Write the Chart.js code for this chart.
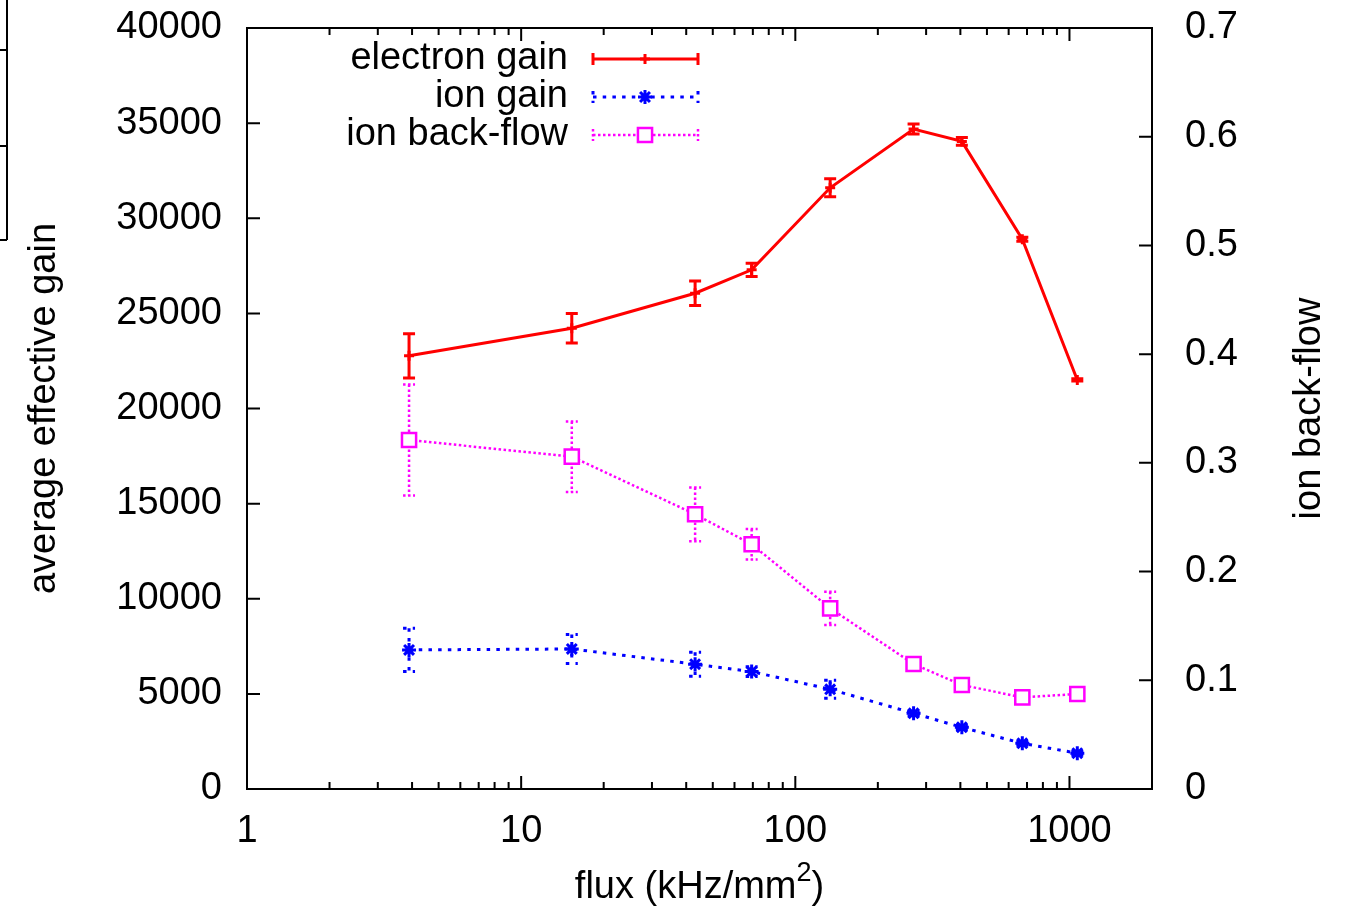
<!DOCTYPE html>
<html>
<head>
<meta charset="utf-8">
<script src="https://cdn.jsdelivr.net/npm/chart.js@4.4.1/dist/chart.umd.min.js"></script>
<style>
  body { margin: 0; background: #fff; }
  #wrap { width: 1353px; height: 910px; }
</style>
</head>
<body>
<div id="wrap"><canvas id="myChart" width="1353" height="910"></canvas></div>
<script>
// flux in kHz/mm2
const flux = [3.9, 15.3, 43.1, 69.3, 134, 270, 405, 673, 1068];

const electronGain = [22770, 24220, 26060, 27290, 31600, 34690, 34040, 28900, 21500];
const electronGainErr = [1165, 775, 640, 350, 470, 260, 200, 105, 60];

const ionGain = [7310, 7360, 6560, 6170, 5240, 3980, 3240, 2400, 1880];
const ionGainErr = [1140, 760, 630, 260, 470, 130, 110, 100, 90];

const backFlow = [0.321, 0.3057, 0.2527, 0.2251, 0.1662, 0.115, 0.0957, 0.0843, 0.0874];
const backFlowErr = [0.051, 0.0324, 0.0247, 0.014, 0.0153, 0.006, 0.0035, 0.0045, 0.0035];

const xTickLabels = [1, 10, 100, 1000];

const FONT = '"Liberation Sans", Arial, Helvetica, sans-serif';
const FSIZE = 38;

function pts(xs, ys) {
    return xs.map((x, i) => ({ x: x, y: ys[i] }));
}

function drawMarker(ctx, style, x, y, r) {
    ctx.beginPath();
    if (style === 'rect') {
        const s = r / Math.SQRT2;
        ctx.fillStyle = '#fff';
        ctx.fillRect(x - s, y - s, 2 * s, 2 * s);
        ctx.rect(x - s, y - s, 2 * s, 2 * s);
    } else if (style === 'star') {
        const d = r * Math.SQRT1_2;
        ctx.moveTo(x - r, y); ctx.lineTo(x + r, y);
        ctx.moveTo(x, y - r); ctx.lineTo(x, y + r);
        ctx.moveTo(x - d, y - d); ctx.lineTo(x + d, y + d);
        ctx.moveTo(x - d, y + d); ctx.lineTo(x + d, y - d);
    } else {
        ctx.moveTo(x - r, y); ctx.lineTo(x + r, y);
        ctx.moveTo(x, y - r); ctx.lineTo(x, y + r);
    }
    ctx.stroke();
}

// vertical error bars with caps, same colour and dash as the series line
const errorBars = {
    id: 'errorBars',
    beforeDatasetsDraw(chart) {
        const ctx = chart.ctx;
        chart.data.datasets.forEach(ds => {
            const xs = chart.scales.x;
            const ys = chart.scales[ds.yAxisID];
            ctx.save();
            ctx.strokeStyle = ds.borderColor;
            ctx.lineWidth = ds.borderWidth;
            ctx.setLineDash(ds.borderDash || []);
            ds.data.forEach((p, j) => {
                const e = ds.errors[j];
                const px = xs.getPixelForValue(p.x);
                const top = ys.getPixelForValue(p.y + e);
                const bot = ys.getPixelForValue(p.y - e);
                ctx.beginPath();
                ctx.moveTo(px, top); ctx.lineTo(px, bot);
                ctx.moveTo(px - 6, top); ctx.lineTo(px + 6, top);
                ctx.moveTo(px - 6, bot); ctx.lineTo(px + 6, bot);
                ctx.stroke();
            });
            ctx.restore();
        });
    }
};

// border, inward ticks, axis titles and the key
const frame = {
    id: 'frame',
    afterDraw(chart) {
        const { ctx, chartArea: a, scales } = chart;
        const { x, y, y2 } = scales;
        ctx.save();
        ctx.strokeStyle = '#000';
        ctx.lineWidth = 2;
        ctx.setLineDash([]);
        ctx.strokeRect(a.left, a.top, a.right - a.left, a.bottom - a.top);

        ctx.beginPath();
        for (let d = 1; d <= 1000; d *= 10) {
            for (let m = 1; m <= 9; m++) {
                const v = d * m;
                if (v >= x.max) break;
                const px = x.getPixelForValue(v);
                const len = m === 1 ? 13 : 7;
                ctx.moveTo(px, a.bottom); ctx.lineTo(px, a.bottom - len);
                ctx.moveTo(px, a.top); ctx.lineTo(px, a.top + len);
            }
        }
        y.ticks.forEach(t => {
            const py = y.getPixelForValue(t.value);
            ctx.moveTo(a.left, py); ctx.lineTo(a.left + 13, py);
        });
        y2.ticks.forEach(t => {
            const py = y2.getPixelForValue(t.value);
            ctx.moveTo(a.right, py); ctx.lineTo(a.right - 13, py);
        });
        // partial frame at the left margin
        ctx.moveTo(7, 0); ctx.lineTo(7, 240);
        ctx.moveTo(0, 50); ctx.lineTo(7, 50);
        ctx.moveTo(0, 146); ctx.lineTo(7, 146);
        ctx.moveTo(0, 240); ctx.lineTo(7, 240);
        ctx.stroke();

        ctx.fillStyle = '#000';
        ctx.font = FSIZE + 'px ' + FONT;
        ctx.textAlign = 'center';
        ctx.textBaseline = 'middle';
        const midY = (a.top + a.bottom) / 2;

        ctx.save();
        ctx.translate(45, midY);
        ctx.rotate(-Math.PI / 2);
        ctx.fillText('average effective gain', 0, 0);
        ctx.restore();

        ctx.save();
        ctx.translate(1310, midY);
        ctx.rotate(-Math.PI / 2);
        ctx.fillText('ion back-flow', 0, 0);
        ctx.restore();

        // x title with a raised exponent
        const base = 'flux (kHz/mm', sup = '2', tail = ')';
        const supFont = '27px ' + FONT;
        const wBase = ctx.measureText(base).width;
        const wTail = ctx.measureText(tail).width;
        ctx.font = supFont;
        const wSup = ctx.measureText(sup).width;
        let tx = (a.left + a.right) / 2 - (wBase + wSup + wTail) / 2;
        ctx.textAlign = 'left';
        ctx.font = FSIZE + 'px ' + FONT;
        ctx.fillText(base, tx, 888);
        ctx.font = supFont;
        ctx.fillText(sup, tx + wBase, 874);
        ctx.font = FSIZE + 'px ' + FONT;
        ctx.fillText(tail, tx + wBase + wSup, 888);

        // key
        chart.data.datasets.forEach((ds, i) => {
            const ry = 59 + i * 38;
            ctx.fillStyle = '#000';
            ctx.textAlign = 'right';
            ctx.fillText(ds.label, 568, ry);
            ctx.save();
            ctx.strokeStyle = ds.borderColor;
            ctx.lineWidth = ds.borderWidth;
            ctx.setLineDash(ds.borderDash || []);
            ctx.beginPath();
            ctx.moveTo(593, ry); ctx.lineTo(698, ry);
            ctx.moveTo(593, ry - 6); ctx.lineTo(593, ry + 6);
            ctx.moveTo(698, ry - 6); ctx.lineTo(698, ry + 6);
            ctx.stroke();
            ctx.setLineDash([]);
            drawMarker(ctx, ds.pointStyle, 645, ry, ds.pointRadius);
            ctx.restore();
        });
        ctx.restore();
    }
};

const tickFont = { family: FONT, size: FSIZE };

function fitVertical(width) {
    return s => {
        s.width = width;
        s.paddingTop = 0;
        s.paddingBottom = 0;
    };
}

const ctx = document.getElementById('myChart').getContext('2d');
const myChart = new Chart(ctx, {
    type: 'line',
    data: {
        datasets: [
            {
                label: 'electron gain',
                data: pts(flux, electronGain),
                errors: electronGainErr,
                yAxisID: 'y',
                borderColor: '#ff0000',
                borderWidth: 3,
                pointStyle: 'cross',
                pointRadius: 5,
                pointBorderWidth: 3,
                fill: false,
            },
            {
                label: 'ion gain',
                data: pts(flux, ionGain),
                errors: ionGainErr,
                yAxisID: 'y',
                borderColor: '#0000ff',
                borderWidth: 3,
                borderDash: [3.5, 6.2],
                pointStyle: 'star',
                pointRadius: 7,
                pointBorderWidth: 3,
                fill: false,
            },
            {
                label: 'ion back-flow',
                data: pts(flux, backFlow),
                errors: backFlowErr,
                yAxisID: 'y2',
                borderColor: '#ff00ff',
                borderWidth: 2.5,
                borderDash: [2.5, 2.5],
                pointStyle: 'rect',
                pointRadius: 10,
                pointBorderWidth: 2.5,
                pointBackgroundColor: '#ffffff',
                fill: false,
            },
        ],
    },
    options: {
        responsive: false,
        animation: false,
        layout: { padding: { top: 28 } },
        plugins: {
            legend: { display: false },
            tooltip: { enabled: false },
        },
        scales: {
            x: {
                type: 'logarithmic',
                min: 1,
                max: 2000,
                afterBuildTicks: s => { s.ticks = xTickLabels.map(v => ({ value: v })); },
                afterFit: s => { s.height = 121; s.paddingLeft = 0; s.paddingRight = 0; },
                ticks: {
                    font: tickFont, color: '#000', padding: 20,
                    maxRotation: 0, autoSkip: false,
                    callback: v => String(v),
                },
                grid: { display: false, drawTicks: false },
                border: { display: false },
            },
            y: {
                position: 'left',
                min: 0,
                max: 40000,
                afterFit: fitVertical(247),
                ticks: { stepSize: 5000, font: tickFont, color: '#000', padding: 25, callback: v => String(v) },
                grid: { display: false, drawTicks: false },
                border: { display: false },
            },
            y2: {
                position: 'right',
                min: 0,
                max: 0.7,
                afterFit: fitVertical(201),
                ticks: {
                    stepSize: 0.1, font: tickFont, color: '#000', padding: 33,
                    callback: v => (Math.abs(v) < 1e-9 ? '0' : v.toFixed(1)),
                },
                grid: { display: false, drawTicks: false },
                border: { display: false },
            },
        },
    },
    plugins: [errorBars, frame],
});
</script>
</body>
</html>
